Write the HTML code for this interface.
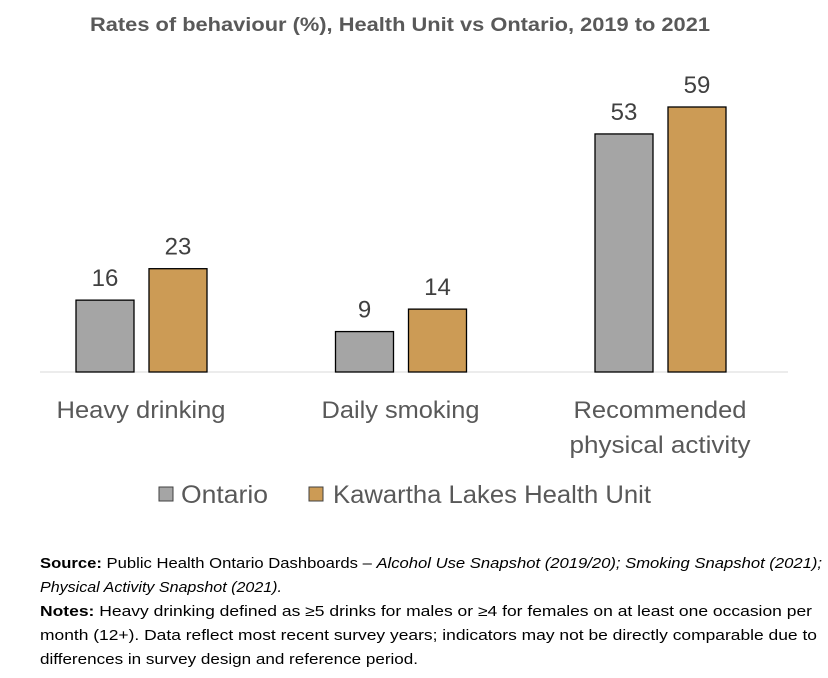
<!DOCTYPE html>
<html><head><meta charset="utf-8"><style>
body{margin:0;background:#fff;width:828px;height:678px;overflow:hidden;font-family:"Liberation Sans",sans-serif}
#notes{position:absolute;left:40px;top:552px;font-size:14.5px;line-height:24px;color:#000}
#notes div{white-space:nowrap;transform-origin:0 50%;width:max-content}
</style></head><body>
<svg id="chart" width="828" height="540" style="position:absolute;left:0;top:0" font-family="Liberation Sans, sans-serif"></svg>
<div id="notes">
<div data-w="782"><b>Source:</b> Public Health Ontario Dashboards – <i>Alcohol Use Snapshot (2019/20); Smoking Snapshot (2021);</i></div>
<div data-w="242"><i>Physical Activity Snapshot (2021).</i></div>
<div data-w="772"><b>Notes:</b> Heavy drinking defined as ≥5 drinks for males or ≥4 for females on at least one occasion per</div>
<div data-w="777">month (12+). Data reflect most recent survey years; indicators may not be directly comparable due to</div>
<div data-w="378">differences in survey design and reference period.</div>
</div>
<script>
const categories=[["Heavy drinking"],["Daily smoking"],["Recommended","physical activity"]];
const ontario=[16,9,53];
const kawartha=[23,14,59];
const seriesNames=["Ontario","Kawartha Lakes Health Unit"];
const NS="http://www.w3.org/2000/svg";
const svg=document.getElementById('chart');
function el(t,a,txt){const e=document.createElementNS(NS,t);for(const k in a)e.setAttribute(k,a[k]);if(txt!=null)e.textContent=txt;svg.appendChild(e);return e;}
const base=372,scale=265/59;
const y=v=>base-v*scale;
const cx=i=>141+i*259.5;
const t=el('text',{x:400,y:31,'text-anchor':'middle','font-size':19,'font-weight':'bold',fill:'#595959',textLength:620,lengthAdjust:'spacingAndGlyphs'},'Rates of behaviour (%), Health Unit vs Ontario, 2019 to 2021');

const ax=el('line',{x1:40,x2:788,y1:base,y2:base,stroke:'#d9d9d9','stroke-width':1});

const series=[[ontario,'#a5a5a5',-36],[kawartha,'#cc9b55',37]];
series.forEach(([vals,col,off],s)=>{vals.forEach((v,i)=>{
 const x=cx(i)+off-29;
 const r=el('rect',{x:x,y:y(v),width:58,height:base-y(v),fill:col,stroke:'#000','stroke-width':1.3});
 
 const l=el('text',{x:x+29,y:y(v)-14,'text-anchor':'middle','font-size':24,fill:'#404040'},v);
 
});});
const catW=[[169],[158],[173,181]];
categories.forEach((c,i)=>{c.forEach((line,j)=>{
 const l=el('text',{x:cx(i),y:418+j*35,'text-anchor':'middle','font-size':24,fill:'#595959',textLength:catW[i][j],lengthAdjust:'spacingAndGlyphs'},line);
 
});});
const lg=[[159,181,'#a5a5a5',87],[309,333,'#cc9b55',318]];
lg.forEach(([sx,tx,col,w],i)=>{
 const r=el('rect',{x:sx,y:487,width:14,height:14,fill:col,stroke:'#404040','stroke-width':1});
 
 const l=el('text',{x:tx,y:503,'font-size':25,fill:'#595959',textLength:w,lengthAdjust:'spacingAndGlyphs'},seriesNames[i]);
 
});
document.querySelectorAll('#notes div').forEach(d=>{
 
 
 const w=d.getBoundingClientRect().width;d.style.transform='scaleX('+(d.dataset.w/w)+')';
});
</script>
</body></html>
